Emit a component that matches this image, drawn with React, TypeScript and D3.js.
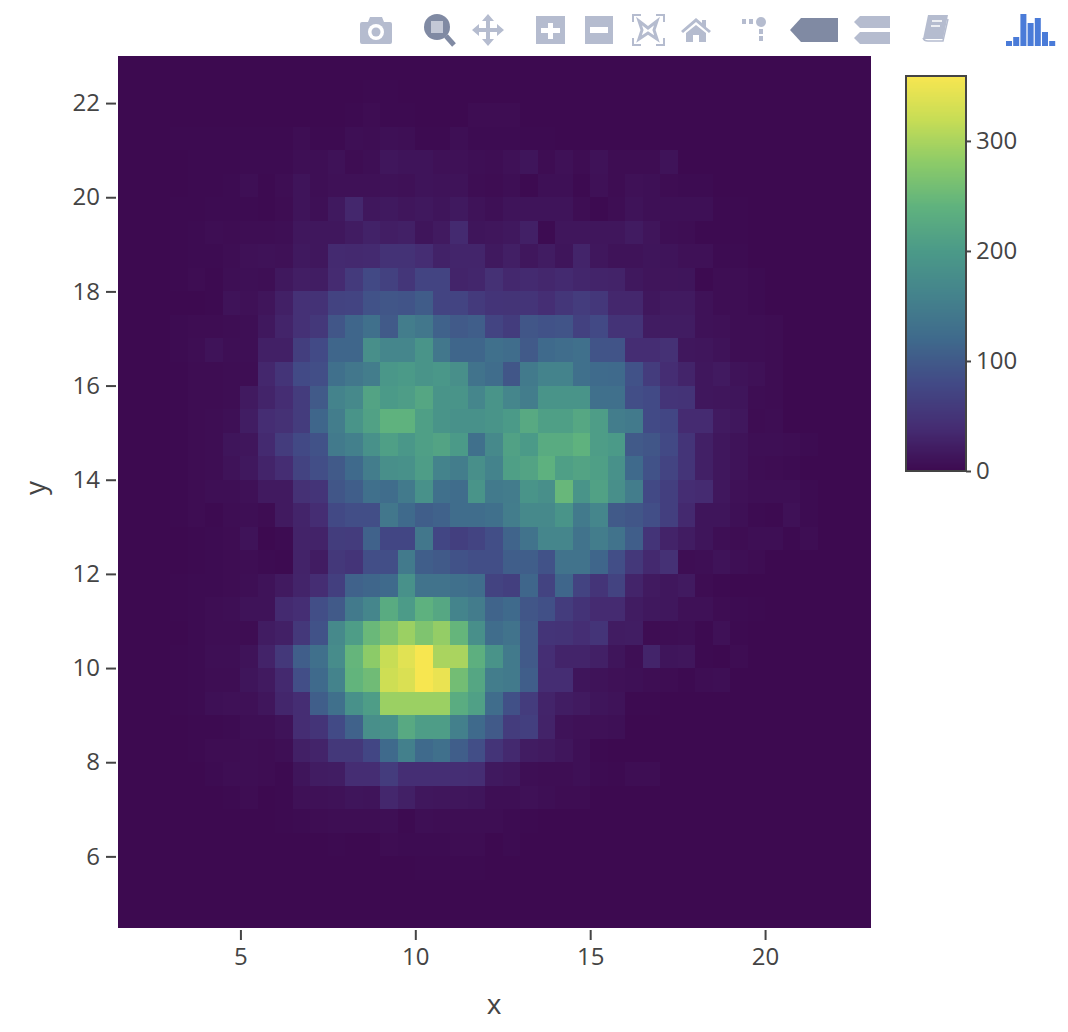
import { useEffect, useRef } from "react";
import * as d3 from "d3";

// bin left edges, 0.5 wide
const xBins = [1.5,2,2.5,3,3.5,4,4.5,5,5.5,6,6.5,7,7.5,8,8.5,9,9.5,10,10.5,11,11.5,12,12.5,13,13.5,14,14.5,15,15.5,16,16.5,17,17.5,18,18.5,19,19.5,20,20.5,21,21.5,22,22.5];
// bin top edges, first row is the top of the plot
const yBins = [23,22.5,22,21.5,21,20.5,20,19.5,19,18.5,18,17.5,17,16.5,16,15.5,15,14.5,14,13.5,13,12.5,12,11.5,11,10.5,10,9.5,9,8.5,8,7.5,7,6.5,6,5.5,5];

// counts per row, trailing zeros left out
const zRows: number[][] = [
  [],
  [0,0,0,0,0,0,0,0,0,0,0,0,0,0,1,1],
  [0,0,0,0,0,0,0,0,0,0,0,0,0,1,3,1,1,0,0,0,3,3,3],
  [0,0,0,1,1,1,1,1,1,1,5,1,1,6,5,7,6,1,1,6,2,2,2,1,1],
  [0,0,0,0,1,1,1,2,2,2,6,6,9,3,6,14,11,11,8,8,6,5,8,12,3,8,3,9,3,3,3,10],
  [0,0,0,0,1,1,2,6,1,4,11,6,8,8,8,9,8,11,10,10,4,3,6,1,7,7,1,8,3,8,7,3,2,2],
  [0,0,0,1,1,2,2,2,1,3,11,7,17,33,15,17,14,16,12,17,10,7,11,11,11,11,4,1,5,10,7,7,7,7,1,1],
  [0,0,0,1,2,4,3,5,4,6,15,15,15,20,27,23,25,12,18,36,12,14,16,25,2,14,14,14,14,19,13,6,4,1,1,1],
  [0,0,0,1,2,2,5,8,9,8,17,15,37,35,37,47,47,40,27,31,31,17,24,15,20,12,30,15,10,10,12,11,8,8,2,2],
  [0,0,0,1,3,1,6,7,6,16,23,22,38,58,78,68,52,72,72,30,32,45,34,36,33,36,32,30,28,16,13,13,12,1,4,4,2],
  [0,0,0,0,0,1,10,8,13,25,46,47,70,72,90,95,92,102,72,72,58,50,49,50,42,52,60,54,33,33,15,18,18,9,4,4,2],
  [0,0,0,2,3,3,5,6,16,30,46,55,95,115,130,100,150,140,110,100,105,72,61,95,90,92,68,78,48,48,20,20,20,9,8,5,5,3],
  [0,0,0,2,5,10,6,6,25,25,63,80,115,115,180,165,165,190,140,115,115,130,125,100,120,125,130,92,92,40,40,45,15,14,10,4,4,3],
  [0,0,0,1,3,3,5,5,33,50,80,85,130,140,150,195,200,190,195,180,135,125,95,145,160,160,130,122,120,90,60,40,30,15,18,10,8,3],
  [0,0,0,1,3,3,5,18,30,40,60,100,160,170,215,200,205,220,190,190,165,190,165,150,190,190,190,130,130,85,80,50,48,15,14,12,5,3],
  [0,0,0,1,3,5,7,22,40,45,60,115,150,190,212,240,240,208,190,185,185,190,200,225,208,208,222,205,150,145,80,75,38,38,18,15,3,4],
  [0,0,0,1,3,5,12,14,36,60,78,90,145,155,185,208,195,208,215,200,130,170,212,200,228,228,240,205,200,100,95,78,50,25,15,10,6,6,4,2],
  [0,0,0,1,3,5,10,16,30,40,70,85,100,120,150,180,185,205,160,150,180,160,208,215,238,208,215,208,185,120,90,72,50,25,15,10,4,3,2],
  [0,0,0,1,3,6,6,8,18,18,45,50,95,105,130,125,145,185,130,125,190,145,148,190,180,248,190,212,180,150,78,65,40,38,15,8,6,6,6,2],
  [0,0,0,1,3,1,5,6,3,18,30,40,78,85,85,140,120,105,110,125,125,130,150,170,170,190,145,165,100,95,85,65,35,12,12,7,2,1,8,2],
  [0,0,0,0,1,2,3,10,0,2,28,28,62,60,110,75,75,140,75,65,72,85,112,135,165,165,135,150,135,105,50,28,20,12,6,3,6,6,1,4],
  [0,0,0,0,1,2,3,4,2,1,28,20,55,50,85,85,145,105,100,90,85,85,105,105,90,135,135,115,85,55,35,45,4,6,10,6,3],
  [0,0,0,1,2,2,3,6,10,18,30,40,65,110,115,120,185,135,135,130,125,70,65,115,70,115,70,50,70,30,18,15,18,3,1],
  [0,0,0,1,2,5,6,10,10,36,42,85,100,145,165,228,202,238,222,162,148,112,120,95,88,60,48,38,38,20,16,15,8,8,3,2,1],
  [0,0,0,0,2,4,4,3,20,25,55,90,170,205,250,268,290,268,285,245,180,125,135,100,50,48,42,50,20,22,3,4,6,1,8,1],
  [0,0,0,1,2,6,6,10,28,55,105,130,175,245,280,320,340,358,300,300,235,188,145,100,42,30,30,25,12,6,30,12,14,1,0,3],
  [0,0,0,1,2,5,5,12,18,35,85,120,160,243,255,325,335,358,348,258,220,150,145,105,40,40,12,10,8,7,5,3,1,5,6],
  [0,0,0,1,2,7,8,8,14,32,40,105,130,185,205,290,290,290,290,230,210,125,88,60,30,22,18,12,10,1,1],
  [0,0,0,0,1,1,2,6,6,10,40,50,80,110,180,185,225,205,205,155,120,100,60,65,28,10,8,8,7],
  [0,0,0,0,1,3,3,5,3,6,25,30,55,55,75,120,155,120,130,105,85,50,35,20,18,14,7,1],
  [0,0,0,0,0,2,5,4,3,1,12,20,22,40,40,60,42,42,42,42,40,17,15,6,5,5,7,2,1,5,5],
  [0,0,0,0,0,0,1,3,0,1,8,8,9,12,11,33,25,15,14,14,12,6,6,8,6,3,3],
  [0,0,0,0,0,0,0,0,0,1,2,3,4,4,5,6,1,6,5,5,5,4,2,1],
  [0,0,0,0,0,0,0,0,0,0,0,0,1,0,0,3,2,2,2,3,3,0,2],
  [0,0,0,0,0,0,0,0,0,0,0,0,0,0,0,0,0,1,1,1,1],
  [],
  [],
];

const xTicks = [5, 10, 15, 20];
const yTicks = [6, 8, 10, 12, 14, 16, 18, 20, 22];
const barTicks = [0, 100, 200, 300];
const zMax = 359;

// viridis as it comes out in the screenshot
const colorDomain = [0, 40, 80, 120, 160, 200, 240, 280, 320, 360];
const colorRange = ["#3d0a50","#452d73","#424a86","#3f6a8c","#44838c","#4b9a88","#5fb27e","#8ccb68","#c8dd55","#f9e650"];

const logoBars = [5, 9, 32, 23, 28, 14, 5];

const INK = "#444";
const FONT = "'Open Sans', sans-serif";
const LIGHT = "#b5bccf";
const ACTIVE = "#808aa3";

function Toolbar() {
  return (
    <g>
      {/* camera */}
      <path d="M362 22h6l2-5h12l2 5h6a2 2 0 0 1 2 2v18a2 2 0 0 1-2 2h-28a2 2 0 0 1-2-2v-18a2 2 0 0 1 2-2z" fill={LIGHT} />
      <circle cx={376} cy={32} r={8} fill="#fff" />
      <circle cx={376} cy={32} r={4.5} fill={LIGHT} />
      {/* zoom */}
      <circle cx={437} cy={27} r={13} fill={ACTIVE} />
      <rect x={431} y={21} width={12} height={12} fill="#c3c8d6" />
      <line x1={446} y1={36} x2={454} y2={45} stroke={ACTIVE} strokeWidth={5} />
      {/* pan */}
      <path d="M488 14l6 7h-4v7h7v-4l7 6-7 6v-4h-7v7h4l-6 7-6-7h4v-7h-7v4l-7-6 7-6v4h7v-7h-4z" fill={LIGHT} />
      {/* zoom in, zoom out */}
      <rect x={536} y={16} width={29} height={28} fill={LIGHT} />
      <path d="M548 23h5v5h7v5h-7v6h-5v-6h-7v-5h7z" fill="#fff" />
      <rect x={585} y={16} width={28} height={28} fill={LIGHT} />
      <rect x={590} y={27} width={18} height={6} fill="#fff" />
      {/* autoscale */}
      <path d="M633 22v-7h8M656 15h8v7M664 38v7h-8M641 45h-8v-7" fill="none" stroke={LIGHT} strokeWidth={2} />
      <path d="M639 21l9 7 9-7-3 9 3 9-9-6-9 6 3-9z" fill="none" stroke={LIGHT} strokeWidth={3} />
      {/* home */}
      <path d="M681 31l15-13 6 5v-3h4v7l5 4-2 2-13-11-13 11z" fill={LIGHT} />
      <path d="M686 33l10-8 10 8v9h-7v-7h-6v7h-7z" fill={LIGHT} />
      {/* spikes */}
      <rect x={742} y={19} width={4} height={5} fill={LIGHT} />
      <rect x={749} y={19} width={4} height={5} fill={LIGHT} />
      <circle cx={761} cy={22} r={5} fill={LIGHT} />
      <rect x={759} y={29} width={4} height={5} fill={LIGHT} />
      <rect x={759} y={36} width={4} height={5} fill={LIGHT} />
      {/* hover closest, hover compare */}
      <path d="M790 30l11-12h37v24h-37z" fill={ACTIVE} />
      <path d="M854 22l6-6h30v12h-30z" fill={LIGHT} />
      <path d="M854 38l6-6h30v12h-30z" fill={LIGHT} />
      {/* docs */}
      <path d="M928 15h20l-5 24h-20z" fill={LIGHT} />
      <path d="M923 38q1 3 5 3h15l5-22" fill="none" stroke={LIGHT} strokeWidth={1.5} />
      <path d="M932 21h10M931 26h9" stroke="#fff" strokeWidth={1.5} />
      {/* plotly logo */}
      {logoBars.map((h, i) => (
        <rect key={i} x={1006 + i * 7.2} y={46 - h} width={6} height={h} fill="#4a7bd8" />
      ))}
    </g>
  );
}

function Heatmap() {
  const ref = useRef<SVGSVGElement>(null);

  useEffect(() => {
    const svg = d3.select(ref.current);
    svg.selectAll("g.chart").remove();
    const root = svg.append("g").attr("class", "chart");

    const x = d3.scaleLinear().domain([1.5, 23]).range([118, 870]);
    const y = d3.scaleLinear().domain([4.5, 23]).range([927, 56]);
    const color = d3
      .scaleLinear<string>()
      .domain(colorDomain)
      .range(colorRange)
      .interpolate(d3.interpolateRgb);

    const cells = yBins.flatMap((top, r) =>
      xBins.map((left, c) => ({ left, top, value: zRows[r][c] ?? 0 })),
    );

    root
      .append("g")
      .attr("shape-rendering", "crispEdges")
      .selectAll("rect")
      .data(cells)
      .join("rect")
      .attr("x", (d) => x(d.left))
      .attr("y", (d) => y(d.top))
      .attr("width", x(2) - x(1.5) + 0.5)
      .attr("height", y(22.5) - y(23) + 0.5)
      .attr("fill", (d) => color(d.value));

    const xAxis = root
      .append("g")
      .attr("transform", "translate(0,930)")
      .call(d3.axisBottom(x).tickValues(xTicks).tickSize(10).tickSizeOuter(0).tickPadding(8));
    const yAxis = root
      .append("g")
      .attr("transform", "translate(116,0)")
      .call(d3.axisLeft(y).tickValues(yTicks).tickSize(10).tickSizeOuter(0).tickPadding(6));

    // colorbar
    const bar = d3.scaleLinear().domain([0, zMax]).range([471, 76]);
    const barSteps = d3.range(0, zMax, 1);
    root
      .append("g")
      .attr("shape-rendering", "crispEdges")
      .selectAll("rect")
      .data(barSteps)
      .join("rect")
      .attr("x", 906)
      .attr("width", 60)
      .attr("y", (d) => bar(d + 1))
      .attr("height", bar(0) - bar(1) + 0.5)
      .attr("fill", (d) => color(d));
    root
      .append("rect")
      .attr("x", 906)
      .attr("y", 76)
      .attr("width", 60)
      .attr("height", 395)
      .attr("fill", "none")
      .attr("stroke", INK)
      .attr("stroke-width", 2);
    const barAxis = root
      .append("g")
      .attr("transform", "translate(966,0)")
      .call(d3.axisRight(bar).tickValues(barTicks).tickSize(5).tickSizeOuter(0).tickPadding(5));

    [xAxis, yAxis, barAxis].forEach((g) => {
      g.select(".domain").remove();
      g.selectAll("line").attr("stroke", INK).attr("stroke-width", 2);
      g.selectAll("text")
        .attr("fill", INK)
        .attr("font-family", FONT)
        .attr("font-size", 24);
    });

    root
      .append("text")
      .attr("x", 494)
      .attr("y", 1014)
      .attr("text-anchor", "middle")
      .attr("fill", INK)
      .attr("font-family", FONT)
      .attr("font-size", 28)
      .text("x");
    root
      .append("text")
      .attr("transform", "translate(45,488) rotate(-90)")
      .attr("text-anchor", "middle")
      .attr("fill", INK)
      .attr("font-family", FONT)
      .attr("font-size", 28)
      .text("y");
  }, []);

  return (
    <svg
      ref={ref}
      width={1068}
      height={1032}
      style={{ position: "absolute", left: 0, top: 0, display: "block" }}
    >
      <Toolbar />
    </svg>
  );
}

export default function App() {
  return <Heatmap />;
}
